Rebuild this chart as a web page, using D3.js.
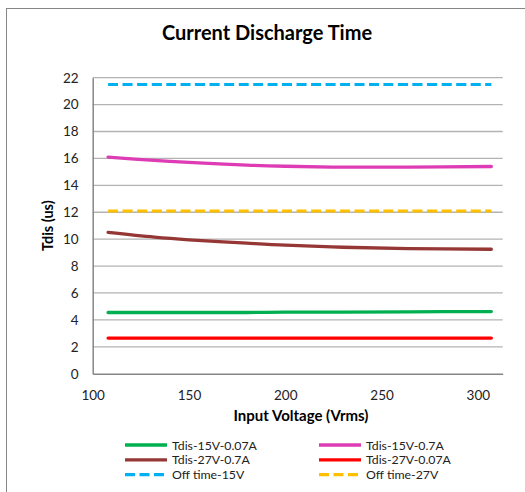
<!DOCTYPE html>
<html>
<head>
<meta charset="utf-8">
<script src="https://cdn.jsdelivr.net/npm/d3@7/dist/d3.min.js"></script>
<style>
	body { margin: 0; background: #fff; }
	text { font-family: Lato, "Open Sans", sans-serif; }
</style>
</head>
<body>
<div id="stage"></div>
<script>
	// values
	var voltage = [108, 132, 150, 180, 200, 230, 264, 307];
	var tdis15v007 = [4.55, 4.55, 4.55, 4.55, 4.57, 4.58, 4.6, 4.62];
	var tdis15v07 = [16.1, 15.85, 15.7, 15.5, 15.42, 15.35, 15.35, 15.4];
	var tdis27v07 = [10.5, 10.15, 9.95, 9.7, 9.55, 9.4, 9.3, 9.25];
	var tdis27v007 = [2.65, 2.65, 2.65, 2.65, 2.65, 2.65, 2.65, 2.65];
	var offTime15v = [21.5, 21.5, 21.5, 21.5, 21.5, 21.5, 21.5, 21.5];
	var offTime27v = [12.1, 12.1, 12.1, 12.1, 12.1, 12.1, 12.1, 12.1];
	var xTicks = [100, 150, 200, 250, 300];
	var yTicks = [0, 2, 4, 6, 8, 10, 12, 14, 16, 18, 20, 22];

	var series = [
		{name: 'Tdis-15V-0.07A', values: tdis15v007, color: '#00b050', dash: null},
		{name: 'Tdis-15V-0.7A', values: tdis15v07, color: '#dd3cb4', dash: null},
		{name: 'Tdis-27V-0.7A', values: tdis27v07, color: '#953735', dash: null},
		{name: 'Tdis-27V-0.07A', values: tdis27v007, color: '#ff0000', dash: null},
		{name: 'Off time-15V', values: offTime15v, color: '#00b0f0', dash: '10,4.5'},
		{name: 'Off time-27V', values: offTime27v, color: '#ffc000', dash: '10,4.5'}
	];

	var width = 525, height = 492;
	var plot = {left: 92.7, right: 502.7, top: 77.7, bottom: 373.7};

	var svg = d3.select('#stage').append('svg')
		.attr('width', width)
		.attr('height', height);

	// outer chart border
	svg.append('rect')
		.attr('x', 6.5).attr('y', 8.5)
		.attr('width', 530).attr('height', 500)
		.attr('fill', 'none')
		.attr('stroke', '#868686')
		.attr('stroke-width', 1);

	var x = d3.scaleLinear().domain([100, 312.9]).range([plot.left, plot.right]);
	var y = d3.scaleLinear().domain([0, 22]).range([plot.bottom, plot.top]);

	// gridlines
	svg.append('g')
		.selectAll('line')
		.data(yTicks.filter(function(d) { return d > 0; }))
		.enter()
		.append('line')
		.attr('x1', plot.left).attr('x2', plot.right)
		.attr('y1', function(d) { return y(d); })
		.attr('y2', function(d) { return y(d); })
		.attr('stroke', '#b3b3b3')
		.attr('stroke-width', 1.3);

	// y axis
	var yAxis = svg.append('g')
		.attr('transform', 'translate(' + plot.left + ',0)')
		.call(d3.axisLeft(y).tickValues(yTicks).tickSize(0).tickPadding(14));
	yAxis.select('.domain').attr('stroke', '#868686').attr('stroke-width', 1.5);
	yAxis.selectAll('text').attr('font-size', 13.5).attr('fill', '#222')
		.style('font-family', 'Lato, sans-serif');

	// x axis
	var xAxis = svg.append('g')
		.attr('transform', 'translate(0,' + plot.bottom + ')')
		.call(d3.axisBottom(x).tickValues(xTicks).tickSize(0).tickPadding(17).tickSizeOuter(0));
	xAxis.select('.domain').attr('stroke', '#868686').attr('stroke-width', 1.5);
	xAxis.selectAll('text').attr('font-size', 13.5).attr('fill', '#222')
		.style('font-family', 'Lato, sans-serif');

	// lines
	var line = d3.line()
		.x(function(d, i) { return x(voltage[i]); })
		.y(function(d) { return y(d); })
		.curve(d3.curveCatmullRom);

	svg.append('g')
		.selectAll('path')
		.data(series)
		.enter()
		.append('path')
		.attr('d', function(d) { return line(d.values); })
		.attr('fill', 'none')
		.attr('stroke', function(d) { return d.color; })
		.attr('stroke-width', function(d) { return d.dash ? 3 : 3.3; })
		.attr('stroke-dasharray', function(d) { return d.dash; })
		.attr('stroke-linecap', function(d) { return d.dash ? 'butt' : 'round'; });

	// titles
	svg.append('text')
		.attr('x', 267).attr('y', 40)
		.attr('text-anchor', 'middle')
		.attr('font-size', 20).attr('font-weight', 'bold')
		.text('Current Discharge Time');

	svg.append('text')
		.attr('transform', 'translate(53,' + ((plot.top + plot.bottom) / 2) + ') rotate(-90)')
		.attr('text-anchor', 'middle')
		.attr('font-size', 14.5).attr('font-weight', 'bold')
		.text('Tdis (us)');

	svg.append('text')
		.attr('x', 301).attr('y', 421)
		.attr('text-anchor', 'middle')
		.attr('font-size', 15).attr('font-weight', 'bold')
		.text('Input Voltage (Vrms)');

	// legend
	var legend = svg.append('g')
		.selectAll('g')
		.data(series)
		.enter()
		.append('g')
		.attr('transform', function(d, i) {
			return 'translate(' + (i % 2 ? 319 : 125) + ',' + (445 + Math.floor(i / 2) * 14.8) + ')';
		});

	legend.append('line')
		.attr('x1', 0).attr('x2', 42)
		.attr('stroke', function(d) { return d.color; })
		.attr('stroke-width', 3.3)
		.attr('stroke-dasharray', function(d) { return d.dash ? '10,4.5' : null; });

	legend.append('text')
		.attr('x', 47).attr('y', 4.5)
		.attr('font-size', 12.3).attr('fill', '#222')
		.text(function(d) { return d.name; });
</script>
</body>
</html>
